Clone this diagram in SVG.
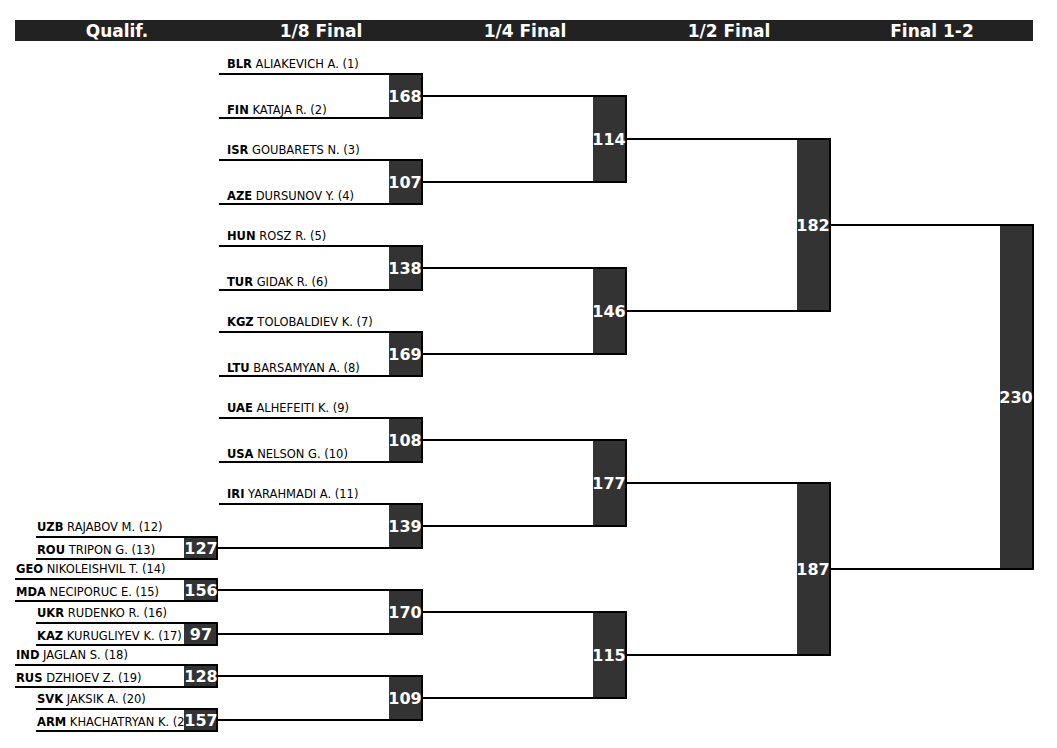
<svg xmlns="http://www.w3.org/2000/svg" width="1057" height="748" viewBox="0 0 1057 748">
<style>
.hdr{fill:#222}
.ht{font-family:"DejaVu Sans",sans-serif;font-weight:bold;font-size:17px;fill:#fff;text-anchor:middle}
.box{fill:#333}
.bl{font-family:"DejaVu Sans",sans-serif;font-weight:bold;font-size:16px;fill:#fff;text-anchor:middle}
.nm{font-family:"DejaVu Sans",sans-serif;font-size:11.5px;fill:#000}
.nm tspan.c{font-weight:bold}
.ln{fill:none;stroke:#000;stroke-width:2}
</style>
<rect width="1057" height="748" fill="#fff"/>
<g id="header">
<rect class="hdr" x="15" y="20" width="1018" height="21"/>
<text class="ht" x="117" y="36.5">Qualif.</text>
<text class="ht" x="321" y="36.5">1/8 Final</text>
<text class="ht" x="525" y="36.5">1/4 Final</text>
<text class="ht" x="729" y="36.5">1/2 Final</text>
<text class="ht" x="932" y="36.5">Final 1-2</text>
</g>
<g id="names">
<text class="nm" x="227" y="68"><tspan class="c">BLR</tspan> ALIAKEVICH A. (1)</text>
<text class="nm" x="227" y="114"><tspan class="c">FIN</tspan> KATAJA R. (2)</text>
<text class="nm" x="227" y="154"><tspan class="c">ISR</tspan> GOUBARETS N. (3)</text>
<text class="nm" x="227" y="200"><tspan class="c">AZE</tspan> DURSUNOV Y. (4)</text>
<text class="nm" x="227" y="240"><tspan class="c">HUN</tspan> ROSZ R. (5)</text>
<text class="nm" x="227" y="286"><tspan class="c">TUR</tspan> GIDAK R. (6)</text>
<text class="nm" x="227" y="326"><tspan class="c">KGZ</tspan> TOLOBALDIEV K. (7)</text>
<text class="nm" x="227" y="372"><tspan class="c">LTU</tspan> BARSAMYAN A. (8)</text>
<text class="nm" x="227" y="412"><tspan class="c">UAE</tspan> ALHEFEITI K. (9)</text>
<text class="nm" x="227" y="458"><tspan class="c">USA</tspan> NELSON G. (10)</text>
<text class="nm" x="227" y="498"><tspan class="c">IRI</tspan> YARAHMADI A. (11)</text>
<text class="nm" x="37" y="531"><tspan class="c">UZB</tspan> RAJABOV M. (12)</text>
<text class="nm" x="37" y="554"><tspan class="c">ROU</tspan> TRIPON G. (13)</text>
<text class="nm" x="16" y="573"><tspan class="c">GEO</tspan> NIKOLEISHVIL T. (14)</text>
<text class="nm" x="16" y="596"><tspan class="c">MDA</tspan> NECIPORUC E. (15)</text>
<text class="nm" x="37" y="617"><tspan class="c">UKR</tspan> RUDENKO R. (16)</text>
<text class="nm" x="37" y="640"><tspan class="c">KAZ</tspan> KURUGLIYEV K. (17)</text>
<text class="nm" x="16" y="659"><tspan class="c">IND</tspan> JAGLAN S. (18)</text>
<text class="nm" x="16" y="682"><tspan class="c">RUS</tspan> DZHIOEV Z. (19)</text>
<text class="nm" x="37" y="703"><tspan class="c">SVK</tspan> JAKSIK A. (20)</text>
<text class="nm" x="37" y="726"><tspan class="c">ARM</tspan> KHACHATRYAN K. (2</text>
</g>
<g id="q127"><rect class="box" x="184" y="537" width="33" height="22"/><path class="ln" d="M36 537H217V559H36"/><text class="bl" x="201" y="554">127</text></g>
<g id="q156"><rect class="box" x="184" y="579" width="33" height="22"/><path class="ln" d="M15 579H217V601H15"/><text class="bl" x="201" y="596">156</text></g>
<g id="q97"><rect class="box" x="184" y="623" width="33" height="22"/><path class="ln" d="M36 623H217V645H36"/><text class="bl" x="201" y="640">97</text></g>
<g id="q128"><rect class="box" x="184" y="665" width="33" height="22"/><path class="ln" d="M15 665H217V687H15"/><text class="bl" x="201" y="682">128</text></g>
<g id="q157"><rect class="box" x="184" y="709" width="33" height="22"/><path class="ln" d="M36 709H217V731H36"/><text class="bl" x="201" y="726">157</text></g>
<g id="r16_168"><rect class="box" x="389" y="74" width="33" height="44"/><path class="ln" d="M219 74H422V118H219"/><text class="bl" x="405" y="102">168</text></g>
<g id="r16_107"><rect class="box" x="389" y="160" width="33" height="44"/><path class="ln" d="M219 160H422V204H219"/><text class="bl" x="405" y="188">107</text></g>
<g id="r16_138"><rect class="box" x="389" y="246" width="33" height="44"/><path class="ln" d="M219 246H422V290H219"/><text class="bl" x="405" y="274">138</text></g>
<g id="r16_169"><rect class="box" x="389" y="332" width="33" height="44"/><path class="ln" d="M219 332H422V376H219"/><text class="bl" x="405" y="360">169</text></g>
<g id="r16_108"><rect class="box" x="389" y="418" width="33" height="44"/><path class="ln" d="M219 418H422V462H219"/><text class="bl" x="405" y="446">108</text></g>
<g id="r16_139"><rect class="box" x="389" y="504" width="33" height="44"/><path class="ln" d="M219 504H422V548H217"/><text class="bl" x="405" y="532">139</text></g>
<g id="r16_170"><rect class="box" x="389" y="590" width="33" height="44"/><path class="ln" d="M217 590H422V634H217"/><text class="bl" x="405" y="618">170</text></g>
<g id="r16_109"><rect class="box" x="389" y="676" width="33" height="44"/><path class="ln" d="M217 676H422V720H217"/><text class="bl" x="405" y="704">109</text></g>
<g id="qf_114"><rect class="box" x="593" y="96" width="33" height="86"/><path class="ln" d="M593 96H626V182H593"/><text class="bl" x="609" y="145">114</text></g>
<g id="qf_146"><rect class="box" x="593" y="268" width="33" height="86"/><path class="ln" d="M593 268H626V354H593"/><text class="bl" x="609" y="317">146</text></g>
<g id="qf_177"><rect class="box" x="593" y="440" width="33" height="86"/><path class="ln" d="M593 440H626V526H593"/><text class="bl" x="609" y="489">177</text></g>
<g id="qf_115"><rect class="box" x="593" y="612" width="33" height="86"/><path class="ln" d="M593 612H626V698H593"/><text class="bl" x="609" y="661">115</text></g>
<g id="sf_182"><rect class="box" x="797" y="139" width="33" height="172"/><path class="ln" d="M797 139H830V311H797"/><text class="bl" x="813" y="231">182</text></g>
<g id="sf_187"><rect class="box" x="797" y="483" width="33" height="172"/><path class="ln" d="M797 483H830V655H797"/><text class="bl" x="813" y="575">187</text></g>
<g id="f_230"><rect class="box" x="1000" y="225" width="33" height="344"/><path class="ln" d="M1000 225H1033V569H1000"/><text class="bl" x="1016" y="403">230</text></g>
<g id="connectors" class="ln">
<path d="M422 96H593M422 182H593M422 268H593M422 354H593M422 440H593M422 526H593M422 612H593M422 698H593"/>
<path d="M626 139H797M626 311H797M626 483H797M626 655H797"/>
<path d="M830 225H1000M830 569H1000"/>
</g>
</svg>
